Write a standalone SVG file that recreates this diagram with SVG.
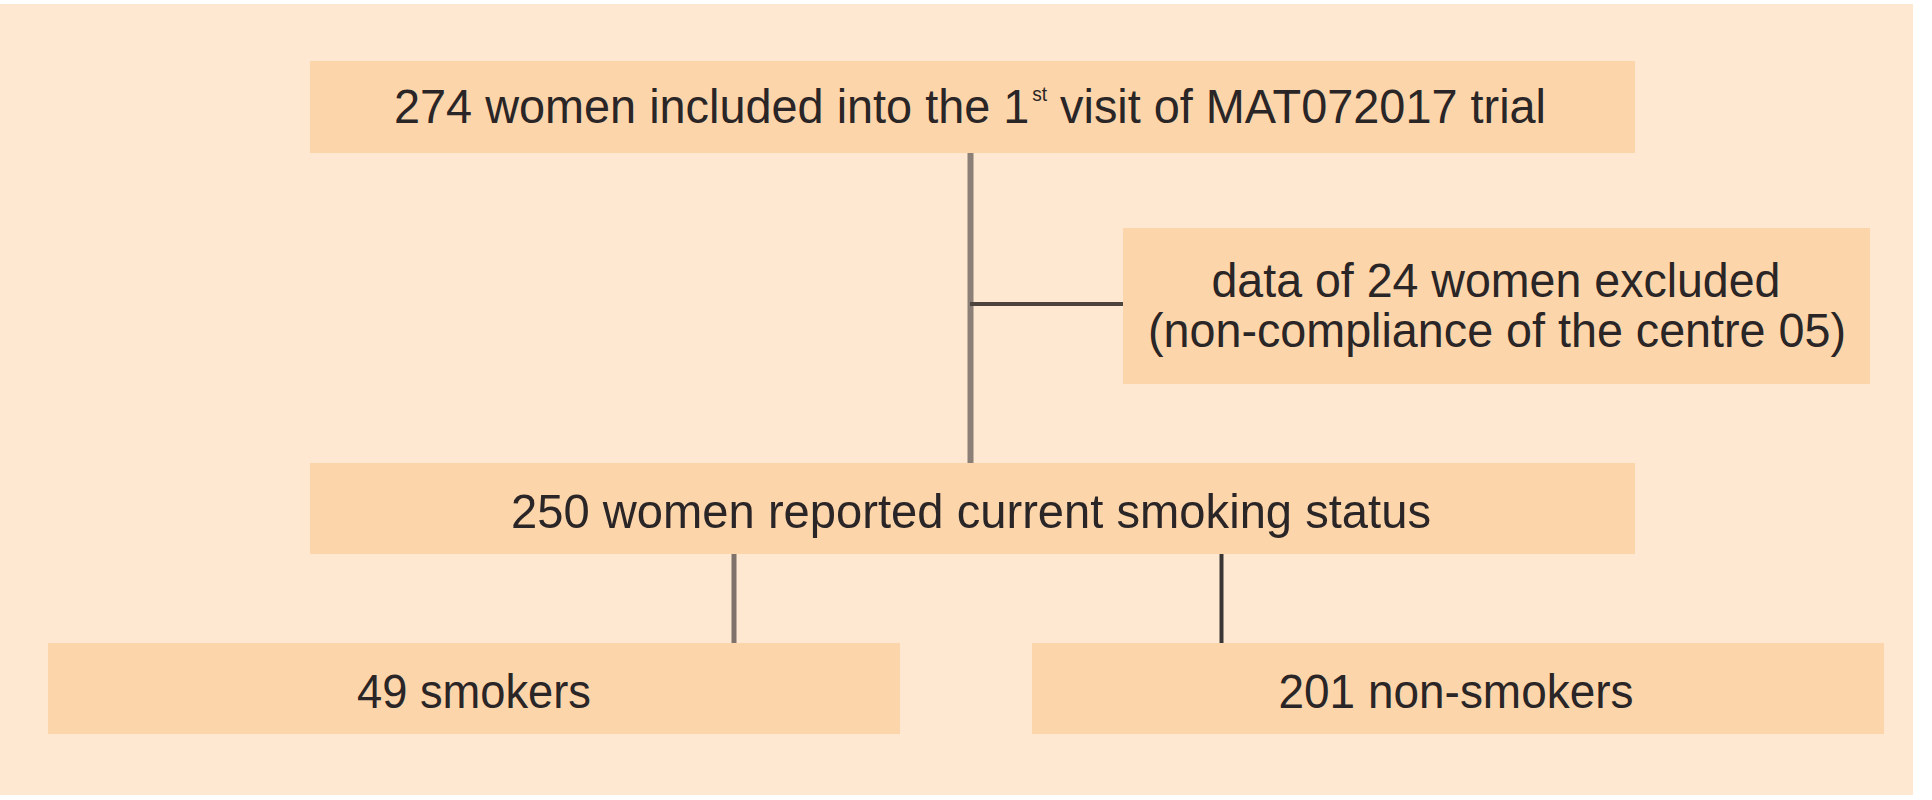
<svg xmlns="http://www.w3.org/2000/svg" width="1932" height="800" viewBox="0 0 1932 800">
  <style>
    .box { fill: #fdd5aa; }
    .lbl { font-family: "Liberation Sans", Arial, sans-serif; font-size: 49px; fill: #2a2526; text-anchor: middle; }
    .sup { font-size: 20px; }
  </style>
  <rect x="0" y="0" width="1932" height="800" fill="#ffffff"/>
  <rect x="0" y="4" width="1913" height="791" fill="#fee8d2"/>

  <g id="connectors">
    <line x1="970.5" y1="152" x2="970.5" y2="463" stroke="#8c7f77" stroke-width="6"/>
    <line x1="970" y1="304" x2="1123" y2="304" stroke="#4d4440" stroke-width="4"/>
    <line x1="734" y1="554" x2="734" y2="643" stroke="#7f726a" stroke-width="5"/>
    <line x1="1221.5" y1="554" x2="1221.5" y2="643" stroke="#3b3636" stroke-width="4"/>
  </g>

  <g id="node-included">
    <rect class="box" x="310" y="61" width="1325" height="92"/>
    <text class="lbl" x="970" y="123" textLength="1152" lengthAdjust="spacingAndGlyphs">274 women included into the 1<tspan class="sup" dx="3" dy="-22">st</tspan><tspan dy="22"> visit of MAT072017 trial</tspan></text>
  </g>

  <g id="node-excluded">
    <rect class="box" x="1123" y="228" width="747" height="156"/>
    <text class="lbl" x="1496" y="297" textLength="569" lengthAdjust="spacingAndGlyphs">data of 24 women excluded</text>
    <text class="lbl" x="1497" y="347" textLength="698" lengthAdjust="spacingAndGlyphs">(non-compliance of the centre 05)</text>
  </g>

  <g id="node-reported">
    <rect class="box" x="310" y="463" width="1325" height="91"/>
    <text class="lbl" x="971" y="528" textLength="920" lengthAdjust="spacingAndGlyphs">250 women reported current smoking status</text>
  </g>

  <g id="node-smokers">
    <rect class="box" x="48" y="643" width="852" height="91"/>
    <text class="lbl" x="474" y="708" textLength="234" lengthAdjust="spacingAndGlyphs">49 smokers</text>
  </g>

  <g id="node-nonsmokers">
    <rect class="box" x="1032" y="643" width="852" height="91"/>
    <text class="lbl" x="1456" y="708" textLength="355" lengthAdjust="spacingAndGlyphs">201 non-smokers</text>
  </g>
</svg>
